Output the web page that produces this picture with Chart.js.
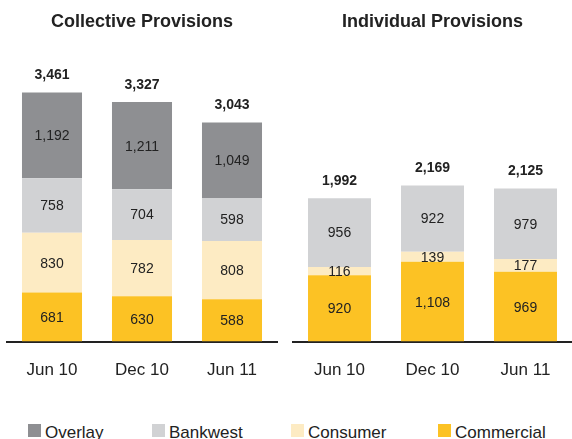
<!DOCTYPE html>
<html>
<head>
<meta charset="utf-8">
<script src="https://cdn.jsdelivr.net/npm/chart.js@4.4.1/dist/chart.umd.min.js"></script>
<style>
  html, body { margin: 0; padding: 0; background: #ffffff; }
  body { width: 572px; height: 439px; position: relative; overflow: hidden; font-family: "Liberation Sans", Arial, sans-serif; }
  #left { position: absolute; left: 0; top: 0; }
  #right { position: absolute; left: 286px; top: 0; }
  #legend { position: absolute; left: 28px; top: 423px; display: flex; font-size: 17px; color: #222; line-height: normal; white-space: nowrap; }
  .item { display: flex; align-items: flex-start; }
  .box { width: 13px; height: 13px; margin-top: 1px; margin-right: 4px; }
</style>
</head>
<body>
<canvas id="left" width="286" height="400"></canvas>
<canvas id="right" width="286" height="400"></canvas>
<div id="legend"></div>
<script>
// ---- data ----
const categories = ["Jun 10", "Dec 10", "Jun 11"];
const seriesNames = ["Commercial", "Consumer", "Bankwest", "Overlay"];
const seriesColors = ["#fcc224", "#fdebc3", "#d1d2d4", "#8e8f92"];

const collectiveCommercial = [681, 630, 588];
const collectiveConsumer   = [830, 782, 808];
const collectiveBankwest   = [758, 704, 598];
const collectiveOverlay    = [1192, 1211, 1049];
const collectiveTotals     = [3461, 3327, 3043];

const individualCommercial = [920, 1108, 969];
const individualConsumer   = [116, 139, 177];
const individualBankwest   = [956, 922, 979];
const individualTotals     = [1992, 2169, 2125];

const Y_MAX = 4000;

const fmt = v => v.toLocaleString("en-US");

const labelPlugin = {
  id: "valueLabels",
  afterDatasetsDraw(chart, args, opts) {
    const ctx = chart.ctx;
    ctx.save();
    ctx.textAlign = "center";
    ctx.textBaseline = "middle";
    ctx.fillStyle = "#222";
    ctx.font = "14px 'Liberation Sans', Arial, sans-serif";
    chart.data.datasets.forEach((ds, di) => {
      const meta = chart.getDatasetMeta(di);
      meta.data.forEach((bar, i) => {
        const y = (bar.y + bar.base) / 2;
        ctx.fillText(fmt(ds.data[i]), bar.x, y + 1);
      });
    });
    const lastMeta = chart.getDatasetMeta(chart.data.datasets.length - 1);
    ctx.font = "bold 14px 'Liberation Sans', Arial, sans-serif";
    lastMeta.data.forEach((bar, i) => {
      ctx.fillText(fmt(opts.totals[i]), bar.x, bar.y - 17);
    });
    ctx.restore();
  }
};

function makeChart(id, title, seriesData, totals, barPct, padLeft, padRight) {
  const datasets = seriesData.map((d, i) => ({
    label: seriesNames[i],
    data: d,
    backgroundColor: seriesColors[i],
    borderWidth: 0,
    barPercentage: barPct,
    categoryPercentage: 1.0
  }));
  return new Chart(document.getElementById(id), {
    type: "bar",
    data: { labels: categories, datasets },
    options: {
      responsive: false,
      animation: false,
      layout: { padding: { left: padLeft, right: padRight, top: 0, bottom: 0 } },
      plugins: {
        legend: { display: false },
        tooltip: { enabled: false },
        title: {
          display: true,
          text: title,
          color: "#222",
          font: { family: "'Liberation Sans', Arial, sans-serif", size: 18, weight: "bold" },
          padding: { top: 11, bottom: 21 }
        },
        valueLabels: { totals }
      },
      scales: {
        x: {
          stacked: true,
          grid: { display: false, drawTicks: false },
          border: { display: true, color: "#222", width: 2 },
          ticks: {
            color: "#222",
            padding: 19,
            font: { family: "'Liberation Sans', Arial, sans-serif", size: 17 }
          }
        },
        y: {
          stacked: true,
          display: false,
          min: 0,
          max: Y_MAX
        }
      }
    },
    plugins: [labelPlugin]
  });
}

makeChart("left", "Collective Provisions",
  [collectiveCommercial, collectiveConsumer, collectiveBankwest, collectiveOverlay],
  collectiveTotals, 0.667, 7, 9);
makeChart("right", "Individual Provisions",
  [individualCommercial, individualConsumer, individualBankwest],
  individualTotals, 0.677, 7, 0);

// legend (top series first)
const legendItemWidths = [124, 139, 147, 120];
const legend = document.getElementById("legend");
for (let i = seriesNames.length - 1, k = 0; i >= 0; i--, k++) {
  const item = document.createElement("div");
  item.className = "item";
  item.style.width = legendItemWidths[k] + "px";
  const box = document.createElement("span");
  box.className = "box";
  box.style.background = seriesColors[i];
  const txt = document.createElement("span");
  txt.textContent = seriesNames[i];
  item.appendChild(box);
  item.appendChild(txt);
  legend.appendChild(item);
}
</script>
</body>
</html>
